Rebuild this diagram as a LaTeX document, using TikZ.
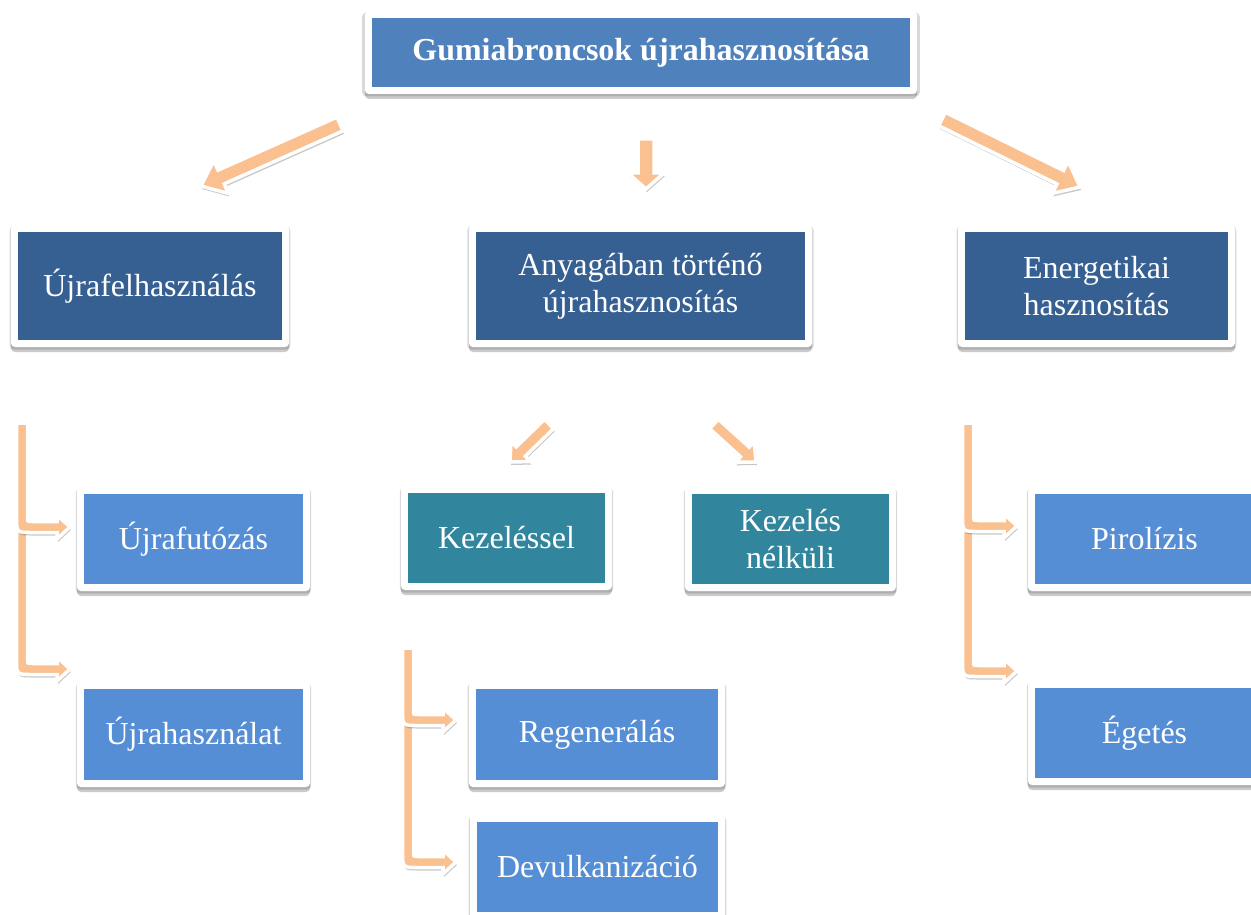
\documentclass[tikz,border=0pt]{standalone}
\usepackage{fontspec}
\setmainfont{Liberation Serif}
\usetikzlibrary{calc,shadows}
\definecolor{topblue}{HTML}{4F81BD}
\definecolor{darkblue}{HTML}{376092}
\definecolor{tealc}{HTML}{31859C}
\definecolor{leafblue}{HTML}{558ED5}
\definecolor{peach}{HTML}{FAC090}
\tikzset{
 outerbox/.style={fill=white, rounded corners=4pt,
   drop shadow={shadow xshift=0pt, shadow yshift=-2pt, shadow scale=1.01, opacity=0.15, fill=black},
   drop shadow={shadow xshift=0pt, shadow yshift=-5pt, opacity=0.25, fill=black!80}},
 innerbox/.style={inner sep=0pt, text=white, align=center, font=\fontsize{32}{37}\selectfont},
 blockarrow/.style={fill=peach, draw=white, line width=3.5pt, line join=miter,
   drop shadow={shadow xshift=1pt, shadow yshift=-3pt, opacity=0.22, fill=black}},
}
\newcommand\mybox[7]{%
  \path[outerbox] ({#2-7},{#3-7}) rectangle ({#4+7},{#5+7});
  \node[innerbox, fill=#6, minimum width={(#4-#2)*1pt}, minimum height={(#5-#3)*1pt}] (#1) at ({(#2+#4)/2},{(#3+#5)/2}) {#7};
}
\newcommand\straightarrow[5]{%
  \coordinate (hb) at ($(#2)!#5pt!(#1)$);
  \path[blockarrow] ($(#1)!#3pt!90:(#2)$) -- ($(hb)!#3pt!90:(#2)$) -- ($(hb)!#4pt!90:(#2)$) -- (#2) -- ($(hb)!#4pt!-90:(#2)$) -- ($(hb)!#3pt!-90:(#2)$) -- ($(#1)!#3pt!-90:(#2)$) -- cycle;
}
\newcommand\bentarrow[4]{%
  \path[blockarrow] ({#1-5.5},#2) -- ({#1+5.5},#2) -- ({#1+5.5},{#3-10}) .. controls ({#1+5.5},{#3-5.5}) .. ({#1+10},{#3-5.5}) -- ({#4-13},{#3-5.5}) -- ({#4-13},{#3-12}) -- (#4,#3) -- ({#4-13},{#3+12}) -- ({#4-13},{#3+5.5}) -- ({#1+10},{#3+5.5}) .. controls ({#1-5.5},{#3+5.5}) .. ({#1-5.5},{#3-10}) -- cycle;
}
\begin{document}
\begin{tikzpicture}[x=1pt,y=-1pt]
\clip (0,0) rectangle (1251,915);
\fill[white] (0,0) rectangle (1251,915);
% boxes
\mybox{top}{372}{18}{910}{87}{topblue}{\bfseries Gumiabroncsok újrahasznosítása}
\mybox{reuse}{18}{232}{282}{340}{darkblue}{Újrafelhasználás}
\mybox{material}{476}{232}{805}{340}{darkblue}{Anyagában történő\\újrahasznosítás}
\mybox{energy}{965}{232}{1228}{340}{darkblue}{Energetikai\\hasznosítás}
\mybox{retread}{84}{494}{303}{584}{leafblue}{Újrafutózás}
\mybox{reuse2}{84}{689}{303}{780}{leafblue}{Újrahasználat}
\mybox{treated}{408}{493}{605}{583}{tealc}{Kezeléssel}
\mybox{untreated}{692}{494}{889}{584}{tealc}{Kezelés\\nélküli}
\mybox{pyro}{1035}{494}{1254}{584}{leafblue}{Pirolízis}
\mybox{burn}{1035}{688}{1254}{778}{leafblue}{Égetés}
\mybox{regen}{476}{689}{718}{780}{leafblue}{Regenerálás}
\mybox{devulc}{477}{822}{718}{912}{leafblue}{Devulkanizáció}
% straight arrows
\coordinate (a1s) at (340,124); \coordinate (a1e) at (201,186);
\coordinate (a2s) at (646,139); \coordinate (a2e) at (646,189);
\coordinate (a3s) at (942,119); \coordinate (a3e) at (1080,187);
\coordinate (a4s) at (549,424); \coordinate (a4e) at (510,462);
\coordinate (a5s) at (714,424); \coordinate (a5e) at (756,462);
\straightarrow{a1s}{a1e}{7.5}{18}{22}
\straightarrow{a2s}{a2e}{8}{18}{16}
\straightarrow{a3s}{a3e}{7.5}{18}{22}
\straightarrow{a4s}{a4e}{6.5}{14}{15}
\straightarrow{a5s}{a5e}{6.5}{14}{15}
% bent arrows
\bentarrow{22}{520}{669}{70}
\bentarrow{22}{423}{527}{70}
\bentarrow{408}{712}{862}{456}
\bentarrow{408}{648}{720}{456}
\bentarrow{968}{520}{671}{1017}
\bentarrow{968}{423}{526}{1017}
\end{tikzpicture}
\end{document}
